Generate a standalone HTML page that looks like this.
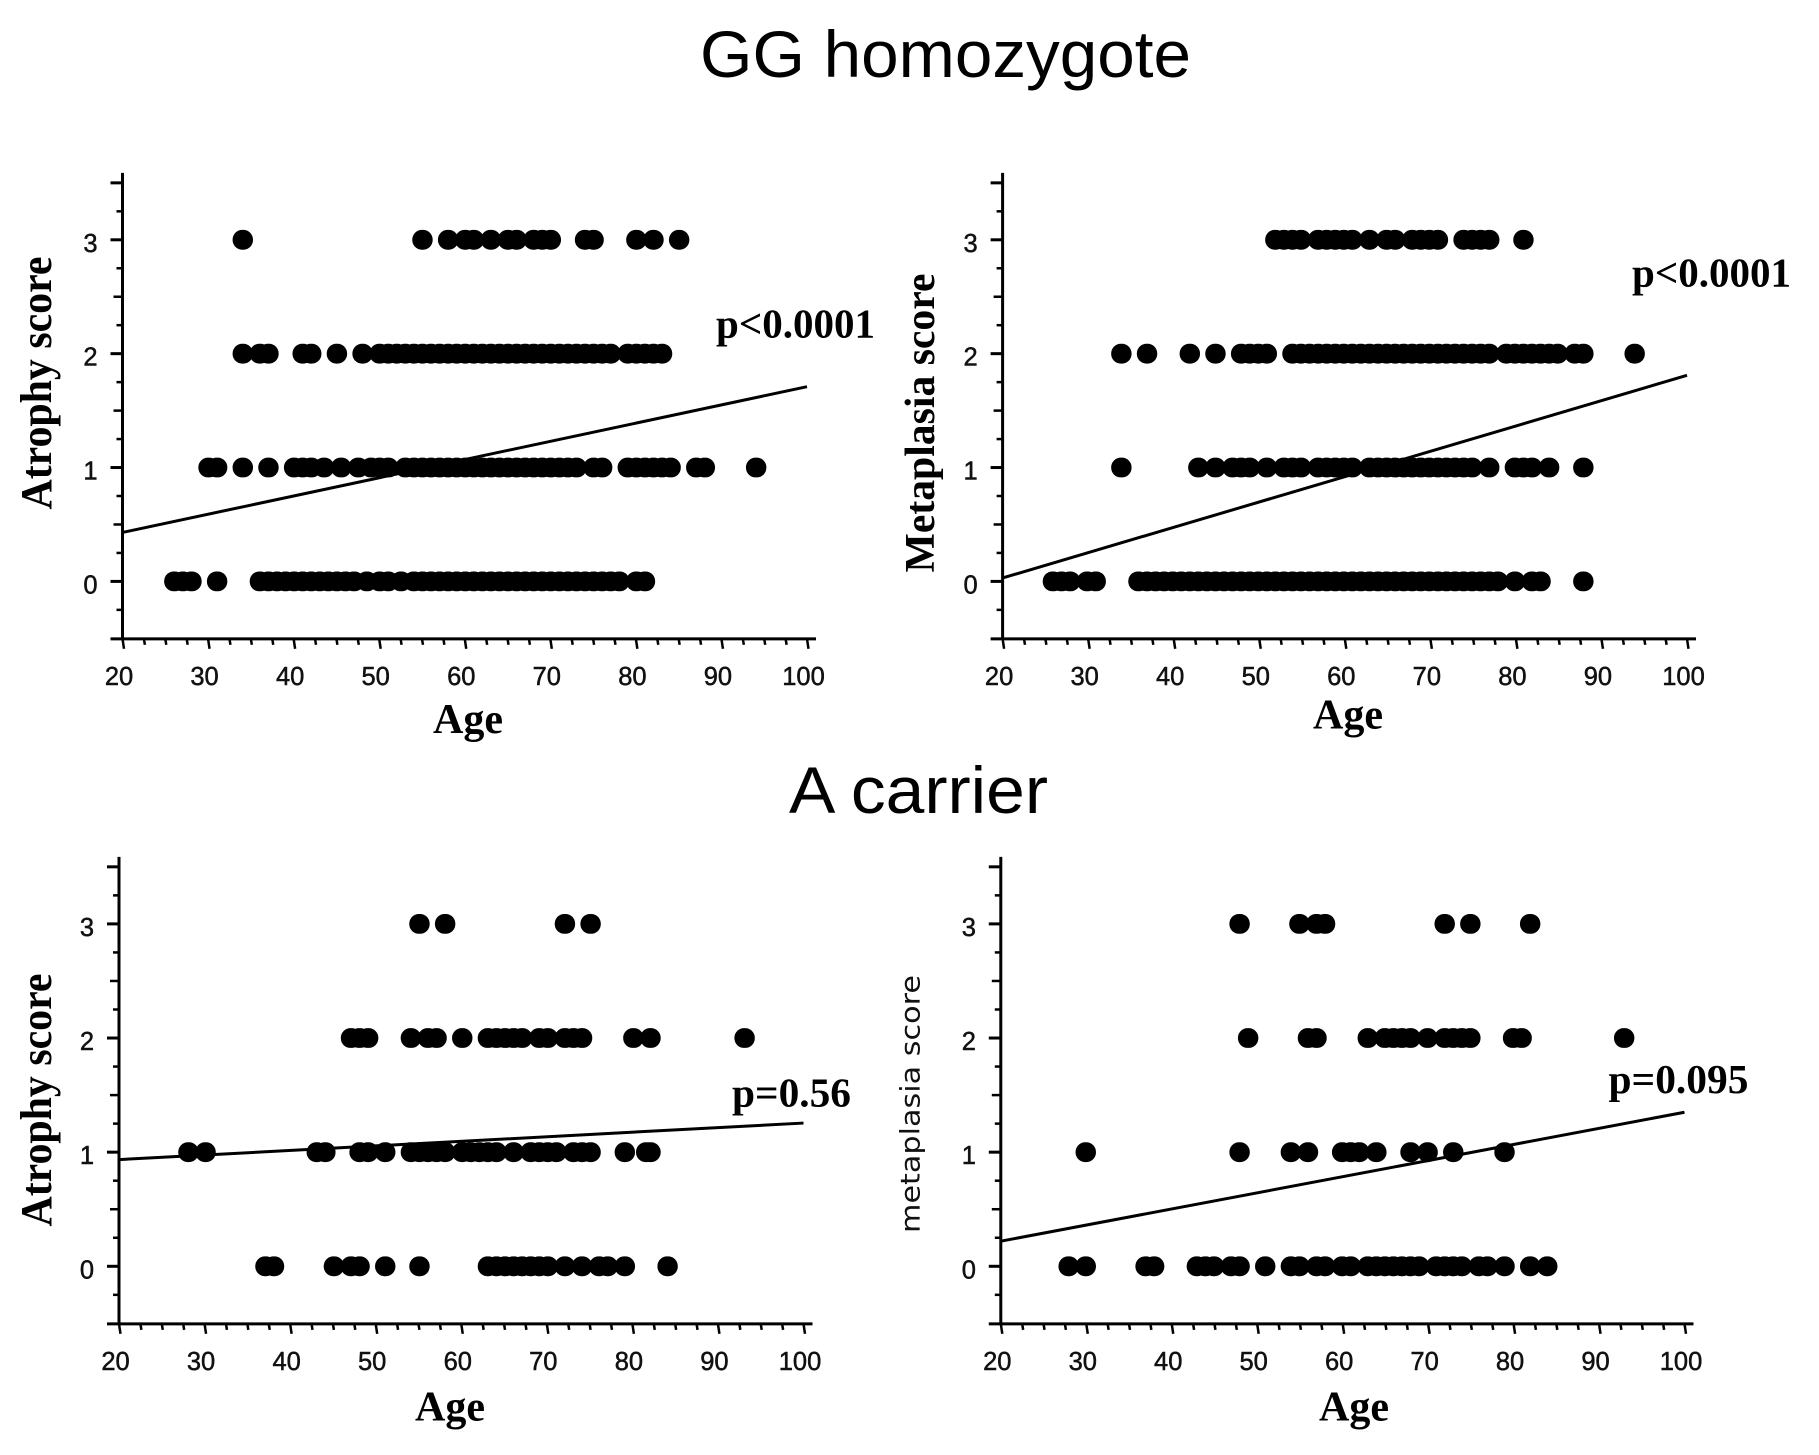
<!DOCTYPE html>
<html lang="en">
<head>
<meta charset="utf-8">
<title>Atrophy and metaplasia score by age and genotype</title>
<style>
html,body{margin:0;padding:0;background:#fff;}
#figure{display:block;width:1819px;height:1455px;background:#fff;}
.tick-label{font-family:"Liberation Sans",sans-serif;font-size:25.5px;fill:#111;stroke:#111;stroke-width:.5px;}
.axis-title{font-family:"Liberation Serif",serif;font-weight:bold;font-size:42px;fill:#000;}
.p-label{font-family:"Liberation Serif",serif;font-weight:bold;font-size:41px;fill:#000;}
.heading{font-family:"Liberation Sans",sans-serif;font-size:66px;fill:#000;}
.sans-title{font-family:"DejaVu Sans",sans-serif;font-size:27px;fill:#111;}
</style>
</head>
<body>
<svg id="figure" xmlns="http://www.w3.org/2000/svg" width="1819" height="1455" viewBox="0 0 1819 1455">
  <text class="heading" x="700" y="77" textLength="491" lengthAdjust="spacingAndGlyphs">GG homozygote</text>
  <text class="heading" x="789" y="813" textLength="259" lengthAdjust="spacingAndGlyphs">A carrier</text>
  <g id="panels"></g>
</svg>
<script>
// Axis ticks
const xTickLabels = [20, 30, 40, 50, 60, 70, 80, 90, 100];
const yTickLabels = [0, 1, 2, 3];

// GG homozygote, atrophy score: ages at each score
const ggAtrophy0 = [26,27,28,31,36,37,38,39,40,41,42,43,44,45,46,47,48.5,50,51,52.5,54,55,56,57,58,59,60,61,62,63,64,65,66,67,68,69,70,71,72,73,74,75,76,77,78,80,81];
const ggAtrophy1 = [30,31,34,37,40,41,42,43.5,45.5,47.5,49,50,51,53,54,55,56,57,58,59,60,61,62,63,64,65,66,67,68,69,70,71,72,73,75,76,79,80,81,82,83,84,87,88,94];
const ggAtrophy2 = [34,36,37,41,42,45,48,50,51,52,53,54,55,56,57,58,59,60,61,62,63,64,65,66,67,68,69,70,71,72,73,74,75,76,77,79,80,81,82,83];
const ggAtrophy3 = [34,55,58,60,61,63,65,66,68,69,70,74,75,80,82,85];
const ggAtrophyTrend = [0.43, 1.71];

// GG homozygote, metaplasia score
const ggMeta0 = [26,27,28,30,31,36,37,38,39,40,41,42,43,44,45,46,47,48,49,50,51,52,53,54,55,56,57,58,59,60,61,62,63,64,65,66,67,68,69,70,71,72,73,74,75,76,77,78,80,82,83,88];
const ggMeta1 = [34,43,45,47,48,49,51,53,54,55,57,58,59,60,61,63,64,65,66,67,68,69,70,71,72,73,74,75,77,80,81,82,84,88];
const ggMeta2 = [34,37,42,45,48,49,50,51,54,55,56,57,58,59,60,61,62,63,64,65,66,67,68,69,70,71,72,73,74,75,76,77,79,80,81,82,83,84,85,87,88,94];
const ggMeta3 = [52,53,54,55,57,58,59,60,61,63,65,66,68,69,70,71,74,75,76,77,81];
const ggMetaTrend = [0.03, 1.81];

// A carrier, atrophy score
const aAtrophy0 = [37,38,45,47,48,51,55,63,64,65,66,67,68,69,70,72,74,76,77,79,84];
const aAtrophy1 = [28,30,43,44,48,49,51,54,55,56,57,58,60,61,62,63,64,66,68,69,70,71,73,74,75,79,81.5,82];
const aAtrophy2 = [47,48,49,54,56,57,60,63,64,65,66,67,69,70,72,73,74,80,82,93];
const aAtrophy3 = [55,58,72,75];
const aAtrophyTrend = [0.935, 1.255];

// A carrier, metaplasia score
const aMeta0 = [28,30,37,38,43,44,45,47,48,51,54,55,57,58,60,61,63,64,65,66,67,68,69,71,72,73,74,76,77,79,82,84];
const aMeta1 = [30,48,54,56,60,61,62,64,68,70,73,79];
const aMeta2 = [49,56,57,63,65,66,67,68,70,72,73,74,75,80,81,93];
const aMeta3 = [48,55,57,58,72,75,82];
const aMetaTrend = [0.22, 1.35];

const NS = 'http://www.w3.org/2000/svg';
const root = document.getElementById('panels');

function node(tag, attrs, parent, text) {
  const el = document.createElementNS(NS, tag);
  for (const k in attrs) el.setAttribute(k, attrs[k]);
  if (text !== undefined) el.textContent = text;
  parent.appendChild(el);
  return el;
}

function drawPanel(cfg) {
  const xScale = v => cfg.x20 + (v - 20) * (cfg.x100 - cfg.x20) / 80;
  const yScale = v => cfg.y0 + (cfg.y3 - cfg.y0) * v / 3;

  const g = node('g', {}, root);
  
  

  const axisBottom = yScale(-0.5) + 0.5;
  const axisTop = yScale(3.5) - 10;

  const yAxis = node('line', {x1: cfg.x20, x2: cfg.x20, y1: axisTop, y2: axisBottom, stroke: '#000', 'stroke-width': 3}, g);
  
  

  const xAxis = node('line', {x1: cfg.x20 - 12, x2: xScale(100) + 9, y1: axisBottom, y2: axisBottom, stroke: '#000', 'stroke-width': 3}, g);
  
  

  // minor and major ticks on y axis
  for (let i = -1; i <= 14; i++) {
    const v = i / 4;
    const major = i % 4 === 0 || i === 14;
    const half = !major && i % 2 === 0;
    const len = major ? 12 : half ? 9 : 6;
    const tick = node('line', {x1: cfg.x20 - len, x2: cfg.x20, y1: yScale(v), y2: yScale(v), stroke: '#000', 'stroke-width': major ? 3 : 2.5}, g);
    
    
  }
  // minor and major ticks on x axis
  for (let i = 0; i <= 32; i++) {
    const v = 20 + i * 2.5;
    const major = i % 4 === 0;
    const len = major ? 10 : 6;
    const tick = node('line', {x1: xScale(v), x2: xScale(v) + (major ? 1.5 : 1), y1: axisBottom, y2: axisBottom + len, stroke: '#000', 'stroke-width': 2.5}, g);
    
    
  }

  xTickLabels.forEach(v => {
    const t = node('text', {class: 'tick-label', x: xScale(v) - 3.5, y: axisBottom + 46, 'text-anchor': 'middle'}, g, String(v));
    
    
  });
  yTickLabels.forEach(v => {
    const t = node('text', {class: 'tick-label', x: cfg.x20 - 32, y: yScale(v) + 12, 'text-anchor': 'middle'}, g, String(v));
    
    
  });

  // trend line
  const trend = node('line', {x1: xScale(20), y1: yScale(cfg.trend[0]), x2: xScale(100), y2: yScale(cfg.trend[1]), stroke: '#000', 'stroke-width': 3}, g);
  
  

  // points, one array per score level; markers are nearly round with a slightly flat top
  cfg.rows.forEach((ages, score) => {
    ages.forEach(age => {
      const dot = node('rect', {x: xScale(age) + cfg.dotShift - 10.2, y: yScale(score) - 9.9, width: 20.4, height: 19.8, rx: 9.6, ry: 9.6, fill: '#000'}, g);
      
      
    });
  });

  const xt = node('text', {class: 'axis-title', x: cfg.ageX, y: cfg.ageY, textLength: 70, lengthAdjust: 'spacingAndGlyphs'}, g, 'Age');
  
  

  const yt = node('text', {
    class: cfg.sansTitle ? 'sans-title' : 'axis-title',
    transform: 'translate(' + cfg.titleX + ' ' + cfg.titleY + ') rotate(-90)',
    'text-anchor': 'middle',
    textLength: cfg.titleLen,
    lengthAdjust: 'spacingAndGlyphs'
  }, g, cfg.yTitle);
  if (cfg.titleSize) yt.style.fontSize = cfg.titleSize + 'px';
  
  

  const p = node('text', {class: 'p-label', x: cfg.pX, y: cfg.pY, textLength: cfg.pLen, lengthAdjust: 'spacingAndGlyphs'}, g, cfg.pText);
  
  
}

drawPanel({
  name: 'gg-atrophy-panel', x20: 122.5, x100: 807, y0: 581.4, y3: 239.8, dotShift: 0.5,
  rows: [ggAtrophy0, ggAtrophy1, ggAtrophy2, ggAtrophy3], trend: ggAtrophyTrend,
  yTitle: 'Atrophy score', titleSize: 44, titleX: 51, titleY: 383, titleLen: 253,
  ageX: 433, ageY: 733, pText: 'p<0.0001', pX: 716, pY: 337.5, pLen: 159
});
drawPanel({
  name: 'gg-metaplasia-panel', x20: 1002.6, x100: 1687, y0: 581.4, y3: 239.8, dotShift: -1,
  rows: [ggMeta0, ggMeta1, ggMeta2, ggMeta3], trend: ggMetaTrend,
  yTitle: 'Metaplasia score', titleX: 934, titleY: 423, titleLen: 299,
  ageX: 1313, ageY: 728.5, pText: 'p<0.0001', pX: 1632, pY: 286.5, pLen: 159
});
drawPanel({
  name: 'a-atrophy-panel', x20: 119, x100: 803.5, y0: 1266.3, y3: 923.9, dotShift: 1,
  rows: [aAtrophy0, aAtrophy1, aAtrophy2, aAtrophy3], trend: aAtrophyTrend,
  yTitle: 'Atrophy score', titleSize: 44, titleX: 51, titleY: 1100, titleLen: 253,
  ageX: 415, ageY: 1420.5, pText: 'p=0.56', pX: 732, pY: 1106.5, pLen: 119
});
drawPanel({
  name: 'a-metaplasia-panel', x20: 1000.8, x100: 1684.5, y0: 1266.3, y3: 923.9, dotShift: -0.5,
  rows: [aMeta0, aMeta1, aMeta2, aMeta3], trend: aMetaTrend, sansTitle: true,
  yTitle: 'metaplasia score', titleX: 919.5, titleY: 1104, titleLen: 258,
  ageX: 1319, ageY: 1420.5, pText: 'p=0.095', pX: 1608.5, pY: 1093, pLen: 140
});
</script>
</body>
</html>
